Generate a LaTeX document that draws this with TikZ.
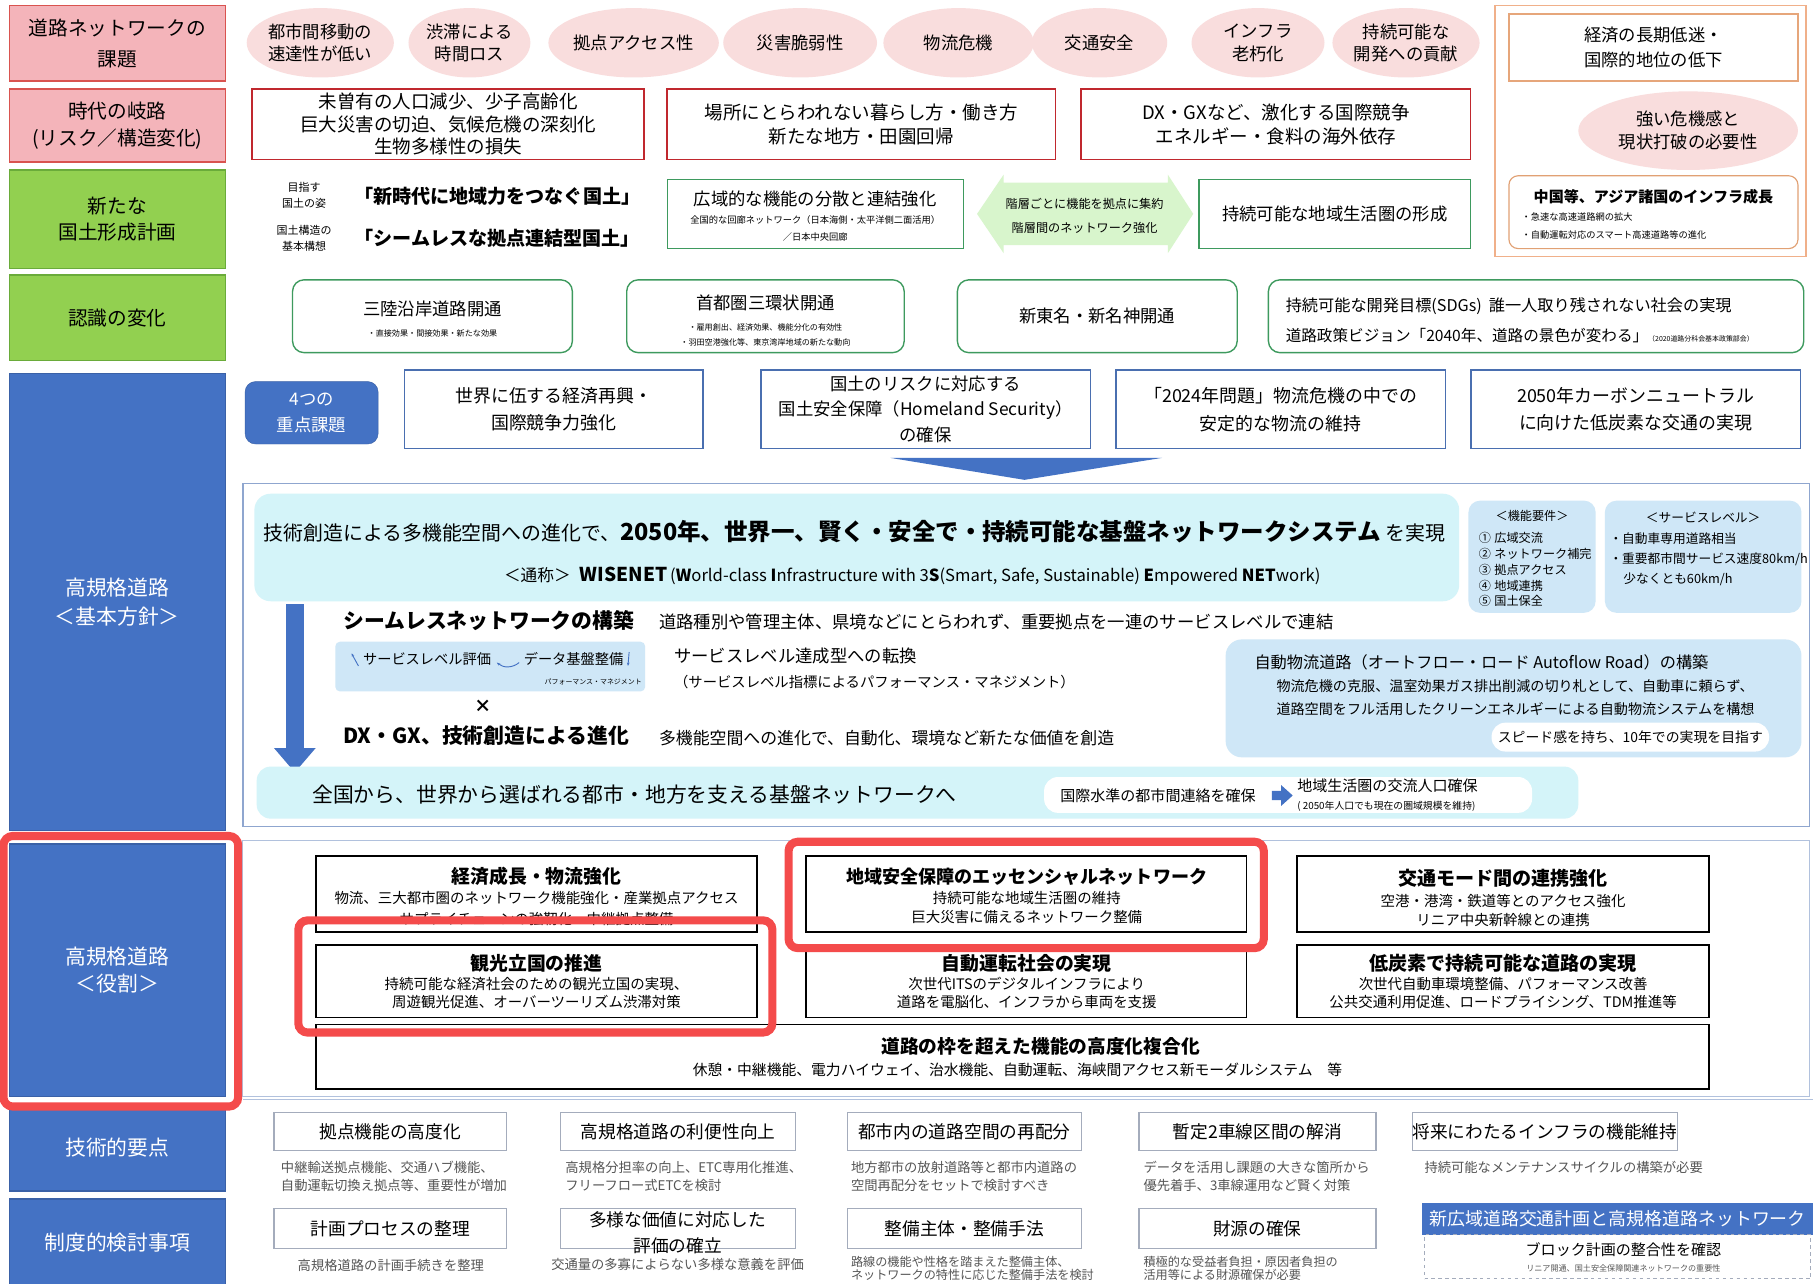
\documentclass[tikz,border=0pt]{standalone}
\usepackage{fontspec}
\setmainfont{Noto Sans CJK JP}
\usetikzlibrary{shapes.geometric,arrows.meta}
\definecolor{pinkL}{HTML}{F4B4BA}
\definecolor{redB}{HTML}{D9534F}
\definecolor{pinkC}{HTML}{F9DDDD}
\definecolor{greenL}{HTML}{92D050}
\definecolor{greenD}{HTML}{6AAB3A}
\definecolor{blueL}{HTML}{4472C4}
\definecolor{redD}{HTML}{C0282E}
\definecolor{greenB}{HTML}{3E9A5E}
\definecolor{orangeB}{HTML}{F0B08A}
\definecolor{blueB}{HTML}{4A6FB0}
\definecolor{cyanF}{HTML}{D4F4F9}
\definecolor{lblueF}{HTML}{CFE7F7}
\definecolor{hlred}{HTML}{F44B4B}
\definecolor{grayB}{HTML}{A4ACBC}
\definecolor{arrG}{HTML}{D8F5CC}
\definecolor{txtG}{HTML}{555555}
\definecolor{lineB}{HTML}{8FA6CF}
\newcommand\fsl[2]{\fontsize{#1}{#2}\selectfont}
\newcommand\fs[1]{\fontsize{#1}{\fpeval{1.3*#1}}\selectfont}
\newcommand\bx[7]{\node[#1,minimum width={(#5)-(#3)},minimum height={(#6)-(#4)}] (#2) at ({((#3)+(#5))/2},{((#4)+(#6))/2}) {#7};}
\newcommand\tx[5][center]{\node[anchor=#1,inner sep=0pt,outer sep=0pt,align=center,font={#4}] (#2) at (#3) {#5};}
\begin{document}
\begin{tikzpicture}[x=1pt,y=-1pt,
  base/.style={inner sep=0pt,outer sep=0pt,align=center},
  pinklab/.style={base,fill=pinkL,draw=redB,line width=1.2pt},
  greenlab/.style={base,fill=greenL,draw=greenD,line width=1.2pt},
  bluelab/.style={base,fill=blueL,draw=blueL!85!black,line width=1pt,text=white,font=\fsl{18}{24}},
  circ/.style={base,ellipse,fill=pinkC,font=\fsl{15}{19.5}},
  redbox/.style={base,draw=redD,line width=1.2pt,fill=white,font=\fsl{16}{19.5}},
  grnbox/.style={base,draw=greenB,line width=1.1pt,fill=white},
  grnround/.style={base,draw=greenB,line width=1.2pt,rounded corners=10pt,fill=white},
  keybox/.style={base,draw=blueB,line width=1.3pt,fill=white,font=\fsl{15.5}{24}},
  rolebox/.style={base,draw=black,line width=1.6pt,fill=white},
  techbox/.style={base,draw=grayB,line width=1pt,fill=white,font=\fs{15.3}},
  hl/.style={draw=hlred,line width=7pt,rounded corners=8pt},
]
\useasboundingbox (0,0) rectangle (1568,1110);
\fill[white] (0,0) rectangle (1568,1110);

% ---------- left labels
\bx{pinklab,font=\fsl{17}{27}}{L1}{8}{5}{195}{70}{道路ネットワークの\\課題}
\bx{pinklab,font=\fsl{17}{23}}{L2}{8}{77}{195}{140}{時代の岐路\\(リスク／構造変化)}
\bx{greenlab,font=\fsl{17}{23}}{L3}{8}{147}{195}{232}{新たな\\国土形成計画}
\bx{greenlab,font=\fsl{17}{22}}{L4}{8}{238}{195}{312}{認識の変化}
\bx{bluelab,font=\fsl{18}{25}}{L5}{8}{323}{195}{718}{高規格道路\\＜基本方針＞}
\bx{bluelab}{L6}{8}{730}{195}{948}{高規格道路\\＜役割＞}
\bx{bluelab}{L7}{8}{955}{195}{1030}{技術的要点}
\bx{bluelab}{L8}{8}{1037}{195}{1112}{制度的検討事項}

% ---------- row 1 circles
\node[circ,minimum width=125,minimum height=60] (c1) at (277,37) {都市間移動の\\速達性が低い};
\node[circ,minimum width=103,minimum height=60] (c2) at (406,37) {渋滞による\\時間ロス};
\node[circ,minimum width=127,minimum height=60] (c3) at (548,37) {拠点アクセス性};
\node[circ,minimum width=133,minimum height=60] (c4) at (692,37) {災害脆弱性};
\node[circ,minimum width=130,minimum height=60] (c5) at (829,37) {物流危機};
\node[circ,minimum width=117,minimum height=60] (c6) at (951,37) {交通安全};
\node[circ,minimum width=115,minimum height=60] (c7) at (1088,37) {インフラ\\老朽化};
\node[circ,minimum width=125,minimum height=60] (c8) at (1216,37) {持続可能な\\開発への貢献};

% ---------- right orange panel
\node[base,draw=orangeB,line width=1.2pt,minimum width=269,minimum height=217] (RP) at (1427.5,113.5) {};
\bx{base,draw=orangeB!80!brown,line width=1.2pt,fill=white,font=\fsl{15}{21}}{R1}{1305}{12}{1555}{70}{経済の長期低迷・\\国際的地位の低下}
\node[circ,minimum width=190,minimum height=68] (R2) at (1460,113) {強い危機感と\\現状打破の必要性};
\bx{base,draw=orangeB!70!brown,line width=1pt,rounded corners=8pt,fill=white}{R3}{1305}{152}{1555}{215}{}
\tx{R3t}{1430,170}{\fs{13}\bfseries}{中国等、アジア諸国のインフラ成長}
\tx[west]{R3a}{1316,188}{\fs{8}}{・急速な高速道路網の拡大}
\tx[west]{R3b}{1316,203}{\fs{8}}{・自動運転対応のスマート高速道路等の進化}

% ---------- row 2
\bx{redbox}{r2a}{218}{77}{557}{138}{未曽有の人口減少、少子高齢化\\巨大災害の切迫、気候危機の深刻化\\生物多様性の損失}
\bx{redbox,font=\fsl{16}{21}}{r2b}{577}{77}{913}{138}{場所にとらわれない暮らし方・働き方\\新たな地方・田園回帰}
\bx{redbox,font=\fsl{16}{21}}{r2c}{935}{77}{1272}{138}{DX・GXなど、激化する国際競争\\エネルギー・食料の海外依存}

% ---------- row 3
\tx{m1}{263,169}{\fsl{9.5}{14}}{目指す\\国土の姿}
\tx{m2}{430,170}{\fs{16.5}\bfseries}{「新時代に地域力をつなぐ国土」}
\tx{m3}{263,206}{\fsl{9.5}{14}}{国土構造の\\基本構想}
\tx{m4}{430,206}{\fs{16.5}\bfseries}{「シームレスな拠点連結型国土」}
\bx{grnbox}{g1}{577}{155}{833}{215}{}
\tx{g1a}{705,172}{\fs{15}}{広域的な機能の分散と連結強化}
\tx{g1b}{705,190}{\fs{8}}{全国的な回廊ネットワーク（日本海側・太平洋側二面活用）}
\tx{g1c}{705,205}{\fs{8}}{／日本中央回廊}
\fill[arrG] (845,185) -- (868,151) -- (868,158) -- (1010,158) -- (1010,151) -- (1032,185) -- (1010,219) -- (1010,212) -- (868,212) -- (868,219) -- cycle;
\tx{da1}{938,176}{\fs{10.5}}{階層ごとに機能を拠点に集約}
\tx{da2}{938,197}{\fs{10.5}}{階層間のネットワーク強化}
\bx{grnbox,font=\fs{15}}{g2}{1037}{155}{1272}{215}{持続可能な地域生活圏の形成}

% ---------- row 4
\bx{grnround}{n1}{253}{242}{495}{305}{}
\tx{n1a}{374,267}{\fs{15}}{三陸沿岸道路開通}
\tx{n1b}{374,288}{\fs{7}}{・直接効果・間接効果・新たな効果}
\bx{grnround}{n2}{542}{242}{782}{305}{}
\tx{n2a}{662,262}{\fs{15}}{首都圏三環状開通}
\tx{n2b}{662,283}{\fs{7}}{・雇用創出、経済効果、機能分化の有効性}
\tx{n2c}{662,296}{\fs{7}}{・羽田空港強化等、東京湾岸地域の新たな動向}
\bx{grnround,font=\fs{15}}{n3}{828}{242}{1070}{305}{新東名・新名神開通}
\bx{grnround}{n4}{1097}{242}{1560}{305}{}
\tx[west]{n4a}{1112,265}{\fs{14}}{持続可能な開発目標(SDGs)\hspace{6pt}誰一人取り残されない社会の実現}
\tx[west]{n4b}{1112,290}{\fs{13.5}}{道路政策ビジョン「2040年、道路の景色が変わる」{\fs{6}（2020道路分科会基本政策部会）}}

% ---------- row 5 key issues
\bx{base,fill=blueL,draw=blueL!85!black,rounded corners=9pt,text=white,font=\fsl{15}{22}}{k0}{212}{330}{327}{384}{4つの\\重点課題}
\bx{keybox}{k1}{350}{320}{608}{388}{世界に伍する経済再興・\\国際競争力強化}
\bx{keybox,font=\fsl{15}{22}}{k2}{658}{320}{943}{388}{国土のリスクに対応する\\国土安全保障（Homeland Security）\\の確保}
\bx{keybox}{k3}{965}{320}{1250}{388}{「2024年問題」物流危機の中での\\安定的な物流の維持}
\bx{keybox}{k4}{1272}{320}{1557}{388}{2050年カーボンニュートラル\\に向けた低炭素な交通の実現}
\fill[blueL] (770,396) -- (1005,396) -- (886,415) -- cycle;

% ---------- basic policy
\bx{base,draw=lineB,line width=1.2pt}{BP}{210}{418}{1565}{715}{}
\bx{base,fill=cyanF,rounded corners=14pt}{CY}{220}{427}{1262}{520}{}
\tx[west]{cy1}{228,460}{\fsl{17.2}{21}}{技術創造による多機能空間への進化で、{\fsl{20.3}{21}\bfseries 2050年、世界一、賢く・安全で・持続可能な基盤ネットワークシステム}\hspace{4pt}を実現}
\tx{cy2}{789,498}{\fsl{14.4}{18}}{＜通称＞\hspace{8pt}{\bfseries\fsl{16.5}{18}WISENET}\,(\textbf{W}orld-class \textbf{I}nfrastructure with 3\textbf{S}(Smart, Safe, Sustainable) \textbf{E}mpowered \textbf{NET}work)}
\bx{base,fill=lblueF,rounded corners=10pt}{FR}{1270}{433}{1380}{530}{}
\tx{fr0}{1325,446}{\fs{10.5}}{＜機能要件＞}
\tx[west]{fr1}{1279,465}{\fs{10.5}}{①\hspace{3pt}広域交流}
\tx[west]{fr2}{1279,479}{\fs{10.5}}{②\hspace{3pt}ネットワーク補完}
\tx[west]{fr3}{1279,493}{\fs{10.5}}{③\hspace{3pt}拠点アクセス}
\tx[west]{fr4}{1279,507}{\fs{10.5}}{④\hspace{3pt}地域連携}
\tx[west]{fr5}{1279,520}{\fs{10.5}}{⑤\hspace{3pt}国土保全}
\bx{base,fill=lblueF,rounded corners=10pt}{SL}{1388}{433}{1558}{530}{}
\tx{sl0}{1473,448}{\fs{11}}{＜サービスレベル＞}
\tx[west]{sl1}{1392,466}{\fs{11}}{・自動車専用道路相当}
\tx[west]{sl2}{1392,484}{\fs{11}}{・重要都市間サービス速度80km/h}
\tx[west]{sl3}{1404,501}{\fs{11}}{少なくとも60km/h}

\tx[west]{sn1}{297,537}{\fs{18}\bfseries}{シームレスネットワークの構築}
\tx[west]{sn2}{570,538}{\fs{15}}{道路種別や管理主体、県境などにとらわれず、重要拠点を一連のサービスレベルで連結}
\bx{base,fill=lblueF,rounded corners=4pt}{SE}{290}{555}{558}{598}{}
\tx[west]{se1}{314,570}{\fs{12.3}}{サービスレベル評価}
\tx[west]{se2}{453,570}{\fs{12.3}}{データ基盤整備}
\tx[east]{se3}{555,590}{\fs{6}}{パフォーマンス・マネジメント}
\draw[blueL,line width=0.8pt,-{Stealth[length=3pt]}] ([xshift=-4pt,yshift=-6pt]se1.west) -- ([xshift=-10pt,yshift=5pt]se1.west);
\draw[blueL,line width=0.8pt,-{Stealth[length=3pt]}] ([xshift=-4pt,yshift=-3pt]se2.west) to[bend left=40] ([xshift=5pt,yshift=-3pt]se1.east);
\draw[blueL,line width=0.8pt,-{Stealth[length=3pt]}] ([xshift=5pt,yshift=6pt]se2.east) -- ([xshift=4pt,yshift=-6pt]se2.east);
\tx[west]{sa1}{583,567}{\fs{15}}{サービスレベル達成型への転換}
\tx[west]{sa2}{583,590}{\fs{12.4}}{（サービスレベル指標によるパフォーマンス・マネジメント）}
\tx{xx}{418,611}{\fs{15}\bfseries}{×}
\tx[west]{dx1}{297,636}{\fs{18}\bfseries}{DX・GX、技術創造による進化}
\tx[west]{dx2}{570,638}{\fs{14.6}}{多機能空間への進化で、自動化、環境など新たな価値を創造}
\bx{base,fill=lblueF,rounded corners=14pt}{AF}{1060}{553}{1558}{655}{}
\tx[west]{af1}{1085,573}{\fs{14}}{自動物流道路（オートフロー・ロード Autoflow Road）の構築}
\tx[west]{af2}{1104,593}{\fs{12.2}}{物流危機の克服、温室効果ガス排出削減の切り札として、自動車に頼らず、}
\tx[west]{af3}{1104,613}{\fs{12.2}}{道路空間をフル活用したクリーンエネルギーによる自動物流システムを構想}
\bx{base,fill=white,rounded corners=12pt,font=\fs{12}}{SP}{1290}{625}{1530}{650}{スピード感を持ち、10年での実現を目指す}
\fill[blueL] (247,522) rectangle (263,648);
\fill[blueL] (237,647) -- (273,647) -- (255,668) -- cycle;
\bx{base,fill=cyanF,rounded corners=12pt}{BT}{222}{663}{1365}{708}{}
\tx[west]{bt1}{270,687}{\fs{18}}{全国から、世界から選ばれる都市・地方を支える基盤ネットワークへ}
\bx{base,fill=white,rounded corners=12pt}{WB}{903}{672}{1325}{703}{}
\tx[west]{wb1}{917,688}{\fs{13}}{国際水準の都市間連絡を確保}
\fill[blueL] (1100,684) -- (1108,684) -- (1108,679) -- (1118,688) -- (1108,697) -- (1108,692) -- (1100,692) -- cycle;
\tx[west]{wb2}{1122,680}{\fs{13}}{地域生活圏の交流人口確保}
\tx[west]{wb3}{1122,697}{\fs{8.5}}{( 2050年人口でも現在の圏域規模を維持)}

% ---------- roles
\bx{base,draw=lineB!70,line width=1pt}{RA}{210}{727}{1565}{948}{}
\bx{rolebox}{e1}{273}{740}{655}{806}{}
\tx{e1t}{464,758}{\fs{16.3}\bfseries}{経済成長・物流強化}
\tx{e1a}{464,777}{\fs{12.5}}{物流、三大都市圏のネットワーク機能強化・産業拠点アクセス}
\tx{e1b}{464,795}{\fs{12.5}}{サプライチェーンの強靭化・中継拠点整備}
\bx{rolebox}{e2}{697}{740}{1078}{806}{}
\tx{e2t}{888,758}{\fs{15.6}\bfseries}{地域安全保障のエッセンシャルネットワーク}
\tx{e2a}{888,777}{\fs{12.5}}{持続可能な地域生活圏の維持}
\tx{e2b}{888,793}{\fs{12.5}}{巨大災害に備えるネットワーク整備}
\bx{rolebox}{e3}{1122}{740}{1478}{806}{}
\tx{e3t}{1300,760}{\fs{16.5}\bfseries}{交通モード間の連携強化}
\tx{e3a}{1300,779}{\fs{12.5}}{空港・港湾・鉄道等とのアクセス強化}
\tx{e3b}{1300,796}{\fs{12.5}}{リニア中央新幹線との連携}
\bx{rolebox}{e4}{273}{817}{655}{880}{}
\tx{e4t}{464,833}{\fs{16.3}\bfseries}{観光立国の推進}
\tx{e4a}{464,851}{\fs{12.5}}{持続可能な経済社会のための観光立国の実現、}
\tx{e4b}{464,867}{\fs{12.5}}{周遊観光促進、オーバーツーリズム渋滞対策}
\bx{rolebox}{e5}{697}{817}{1078}{880}{}
\tx{e5t}{888,833}{\fs{16.3}\bfseries}{自動運転社会の実現}
\tx{e5a}{888,851}{\fs{12.5}}{次世代ITSのデジタルインフラにより}
\tx{e5b}{888,867}{\fs{12.5}}{道路を電脳化、インフラから車両を支援}
\bx{rolebox}{e6}{1122}{817}{1478}{880}{}
\tx{e6t}{1300,833}{\fs{16.5}\bfseries}{低炭素で持続可能な道路の実現}
\tx{e6a}{1300,851}{\fs{12.5}}{次世代自動車環境整備、パフォーマンス改善}
\tx{e6b}{1300,867}{\fs{12.5}}{公共交通利用促進、ロードプライシング、TDM推進等}
\bx{rolebox}{e7}{273}{886}{1478}{942}{}
\tx{e7t}{900,905}{\fs{16.2}\bfseries}{道路の枠を超えた機能の高度化複合化}
\tx{e7a}{880,925}{\fs{12.8}}{休憩・中継機能、電力ハイウェイ、治水機能、自動運転、海峡間アクセス新モーダルシステム　等}

% highlights
\draw[hl] (3,723) rectangle (206,957);
\draw[hl] (258,796) rectangle (668,893);
\draw[hl] (682,728) rectangle (1093,820);

% ---------- technical
\draw[lineB!70,line width=1pt] (210,951) -- (1568,951);
\bx{techbox}{t1}{237}{962}{438}{995}{拠点機能の高度化}
\tx[west]{t1a}{243,1010}{\fs{11.5}\color{txtG}}{中継輸送拠点機能、交通ハブ機能、}
\tx[west]{t1b}{243,1025}{\fs{11.5}\color{txtG}}{自動運転切換え拠点等、重要性が増加}
\bx{techbox}{t2}{485}{962}{688}{995}{高規格道路の利便性向上}
\tx[west]{t2a}{489,1010}{\fs{11.5}\color{txtG}}{高規格分担率の向上、ETC専用化推進、}
\tx[west]{t2b}{489,1025}{\fs{11.5}\color{txtG}}{フリーフロー式ETCを検討}
\bx{techbox}{t3}{733}{962}{935}{995}{都市内の道路空間の再配分}
\tx[west]{t3a}{736,1010}{\fs{11.5}\color{txtG}}{地方都市の放射道路等と都市内道路の}
\tx[west]{t3b}{736,1025}{\fs{11.5}\color{txtG}}{空間再配分をセットで検討すべき}
\bx{techbox}{t4}{985}{962}{1190}{995}{暫定2車線区間の解消}
\tx[west]{t4a}{989,1010}{\fs{11.5}\color{txtG}}{データを活用し課題の大きな箇所から}
\tx[west]{t4b}{989,1025}{\fs{11.5}\color{txtG}}{優先着手、3車線運用など賢く対策}
\bx{techbox}{t5}{1232}{962}{1440}{995}{将来にわたるインフラの機能維持}
\tx[west]{t5a}{1232,1010}{\fs{11.5}\color{txtG}}{持続可能なメンテナンスサイクルの構築が必要}

% ---------- institutional
\bx{techbox}{i1}{237}{1045}{438}{1080}{計画プロセスの整理}
\tx{i1a}{338,1094}{\fs{11.5}\color{txtG}}{高規格道路の計画手続きを整理}
\bx{techbox}{i2}{485}{1045}{688}{1080}{}
\tx{i2t}{586,1066}{\fsl{15.3}{23}}{多様な価値に対応した\\評価の確立}
\tx{i2a}{586,1094}{\fs{11.5}\color{txtG}}{交通量の多寡によらない多様な意義を評価}
\bx{techbox}{i3}{733}{1045}{935}{1080}{整備主体・整備手法}
\tx[west]{i3a}{736,1091}{\fs{10.5}\color{txtG}}{路線の機能や性格を踏まえた整備主体、}
\tx[west]{i3b}{736,1103}{\fs{10.5}\color{txtG}}{ネットワークの特性に応じた整備手法を検討}
\bx{techbox}{i4}{985}{1045}{1190}{1080}{財源の確保}
\tx[west]{i4a}{989,1091}{\fs{10.5}\color{txtG}}{積極的な受益者負担・原因者負担の}
\tx[west]{i4b}{989,1103}{\fs{10.5}\color{txtG}}{活用等による財源確保が必要}
\bx{base,fill=blueL,text=white,font=\fs{15.5}}{NB}{1230}{1040}{1568}{1068}{新広域道路交通計画と高規格道路ネットワーク}
\bx{base,draw=grayB,dashed,line width=0.8pt}{DB}{1232}{1068}{1566}{1106}{}
\tx{db1}{1404,1081}{\fs{13}}{ブロック計画の整合性を確認}
\tx{db2}{1404,1097}{\fs{7}\color{txtG}}{リニア開通、国土安全保障関連ネットワークの重要性}
\end{tikzpicture}
\end{document}
